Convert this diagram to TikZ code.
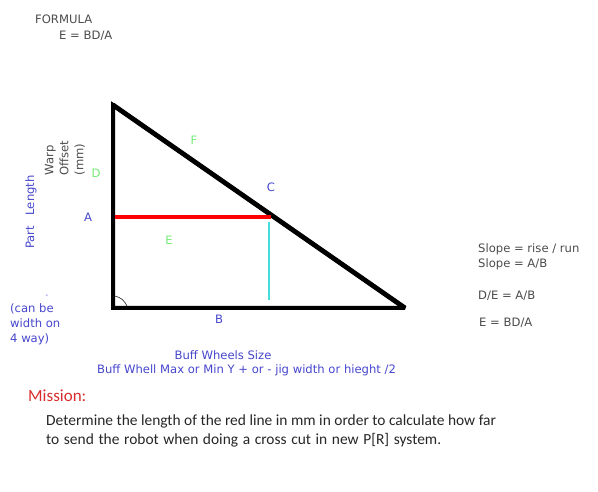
\documentclass[tikz,border=0pt]{standalone}
\usepackage{fontspec}
\setmainfont{DejaVu Sans}
\newfontfamily\missionfont{Carlito}
\usetikzlibrary{positioning}
\definecolor{labelblue}{RGB}{70,70,205}
\definecolor{labelgreen}{RGB}{120,235,120}
\definecolor{labelgrey}{RGB}{75,75,75}
\definecolor{riserline}{RGB}{70,220,220}
\definecolor{missionred}{RGB}{215,45,45}
\begin{document}
\begin{tikzpicture}[x=1pt, y=-1pt,
    every node/.style = {inner sep=0pt, font=\fontsize{11.6}{15}\selectfont},
    bluetext/.style = {text=labelblue},
    greentext/.style = {text=labelgreen},
    greytext/.style = {text=labelgrey},
    sidetext/.style = {rotate=90, align=left}]
\useasboundingbox (0,0) rectangle (598,492);

\coordinate (top) at (113,105);
\coordinate (corner) at (113,308);
\coordinate (tip) at (405,308);
\coordinate (redstart) at (115,217);
\coordinate (redend) at (271,217);
\coordinate (cyanstart) at (269,222);
\coordinate (cyanend) at (269,300);
\coordinate (arcstart) at (115,296);
\coordinate (arcend) at (127,306);

\draw[line width=4pt, miter limit=3] (tip) -- (corner) -- (top) -- cycle;
\draw[line width=4.8pt] (top) -- (tip);
\draw[red, line width=4pt] (redstart) -- (redend);
\draw[riserline, line width=1.2pt] (cyanstart) -- (cyanend);
\draw[line width=0.5pt] (arcstart) to[bend left=25] (arcend);

\node[greytext, anchor=west] (formula) at (35,19) {FORMULA};
\node[greytext, anchor=west] (formulaE) at (59,36) {E = BD/A};

\node[greentext] (F) at (194,140) {F};
\node[bluetext] (C) at (271,187) {C};
\node[greentext] (D) at (96,173) {D};
\node[bluetext] (A) at (88,217) {A};
\node[greentext] (E) at (169,240) {E};
\node[bluetext] (B) at (219,319) {B};

\node[sidetext, greytext] (warp) at (65,158) {Warp\\Offset\\(mm)};
\node[sidetext, bluetext] (part) at (31,212) {Part\hspace{0.9em}Length};
\node[bluetext, font=\fontsize{7}{8}\selectfont] (dash) at (47,296) {-};
\node[bluetext, align=left, anchor=north west] (width) at (10,303) {(can be\\width on\\4 way)};

\node[bluetext] (buffsize) at (223,355) {Buff Wheels Size};
\node[bluetext] (buffmax) at (246.5,370) {Buff Whell Max or Min Y + or - jig width or hieght /2};

\node[greytext, align=left, anchor=north west] (slope) at (478,243) {Slope = rise / run\\Slope = A/B};
\node[greytext, anchor=west] (ratio) at (478,296) {D/E = A/B};
\node[greytext, anchor=west] (result) at (479,323) {E = BD/A};

\node[anchor=west, text=missionred, font=\missionfont\fontsize{17}{20}\selectfont] (mission) at (28,396) {Mission:};
\node[anchor=north west, align=left, text=black!85, font=\missionfont\fontsize{15.45}{19}\selectfont] (task) at (46,414.5)
    {Determine the length of the red line in mm in order to calculate how far\\{\spaceskip=4.6pt to send the robot when doing a cross cut in new P[R] system.}};
\end{tikzpicture}
\end{document}
